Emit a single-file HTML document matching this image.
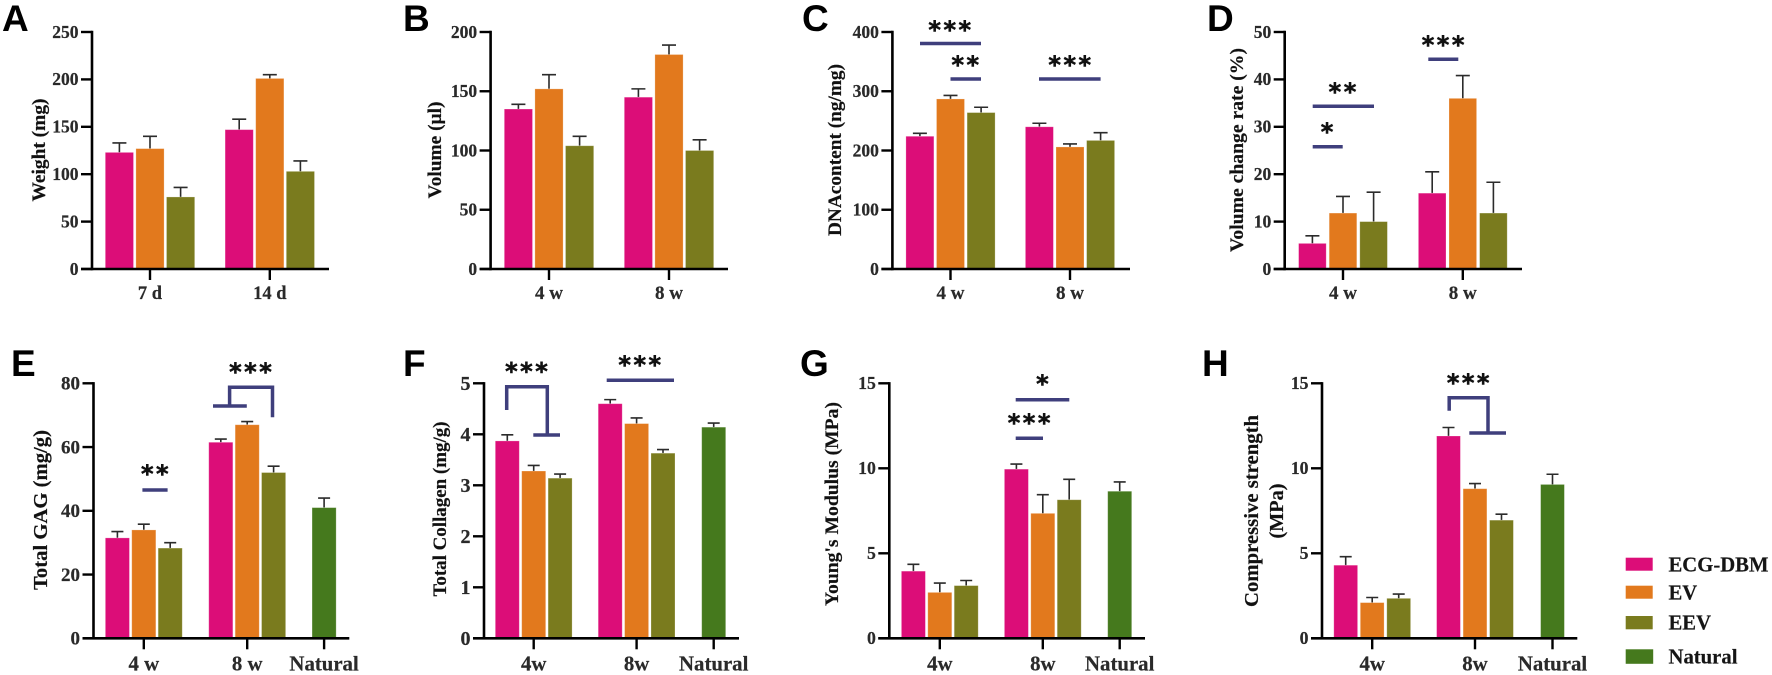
<!DOCTYPE html>
<html lang="en">
<head>
<meta charset="utf-8">
<title>Eight-panel bar chart figure</title>
<style>
html,body{margin:0;padding:0;background:#fff;}
#figure{display:block;width:1772px;height:675px;filter:blur(0.35px);}
text{font-family:"Liberation Serif",serif;font-weight:bold;stroke:#222;stroke-width:0.2px;}
.letter{font-family:"Liberation Sans",sans-serif;font-size:37px;fill:#000;stroke:none;}
.star{font-family:"DejaVu Sans",sans-serif;font-size:24px;fill:#111;text-anchor:middle;letter-spacing:2.5px;stroke:#111;stroke-width:0.6px;}
.sig{fill:none;stroke:#3f3f7c;stroke-width:3.5;}
.leg{font-size:20.7px;fill:#151515;}
</style>
</head>
<body>
<svg id="figure" xmlns="http://www.w3.org/2000/svg" width="1772" height="675" viewBox="0 0 1772 675">
  <rect x="0" y="0" width="1772" height="675" fill="#fff"/>
  <g id="panels"></g>

  <g>
    <text class="letter" x="2" y="31">A</text>
    <text class="letter" x="403" y="31">B</text>
    <text class="letter" x="802" y="31">C</text>
    <text class="letter" x="1207" y="31">D</text>
    <text class="letter" x="11" y="376">E</text>
    <text class="letter" x="403" y="376">F</text>
    <text class="letter" x="800" y="376">G</text>
    <text class="letter" x="1202" y="376">H</text>
  </g>

  <g>
    <path class="sig" d="M920 43.5H981"/>
    <text class="star" x="951" y="38">***</text>
    <path class="sig" d="M950.5 79H981"/>
    <text class="star" x="966.5" y="73">**</text>
    <path class="sig" d="M1039 79H1100.6"/>
    <text class="star" x="1071" y="73">***</text>
  </g>
  <g>
    <path class="sig" d="M1312.7 106.3H1374"/>
    <text class="star" x="1343.7" y="100">**</text>
    <path class="sig" d="M1312.7 146.7H1342.7"/>
    <text class="star" x="1328.3" y="140">*</text>
    <path class="sig" d="M1428.3 59.3H1458.3"/>
    <text class="star" x="1444.3" y="53">***</text>
  </g>
  <g>
    <path class="sig" d="M142.4 490H167.6"/>
    <text class="star" x="156" y="482">**</text>
    <path class="sig" d="M213 406H246.8M229.6 406V387.3H272.5V417.3"/>
    <text class="star" x="251.7" y="380">***</text>
  </g>
  <g>
    <path class="sig" d="M506.7 410V386.7H547.3V435M533.3 435H560"/>
    <text class="star" x="527.7" y="379.5">***</text>
    <path class="sig" d="M606.7 380.3H674"/>
    <text class="star" x="641" y="373">***</text>
  </g>
  <g>
    <path class="sig" d="M1015.7 399.7H1069.3"/>
    <text class="star" x="1043.7" y="392">*</text>
    <path class="sig" d="M1015.7 438.3H1043"/>
    <text class="star" x="1030.3" y="431">***</text>
  </g>
  <g>
    <path class="sig" d="M1449.2 410.7V397.7H1488V433M1469.3 433H1506"/>
    <text class="star" x="1469.4" y="391">***</text>
  </g>

  <g>
    <g>
      <rect x="1625.7" y="557.7" width="27" height="13" fill="#dc0d78"/>
      <text class="leg" x="1668.5" y="571.7">ECG-DBM</text>
    </g>
    <g>
      <rect x="1625.7" y="585.7" width="27" height="13" fill="#e2791d"/>
      <text class="leg" x="1668.5" y="599.5">EV</text>
    </g>
    <g>
      <rect x="1625.7" y="616" width="27" height="13.3" fill="#7a7b1e"/>
      <text class="leg" x="1668.5" y="629.5">EEV</text>
    </g>
    <g>
      <rect x="1625.7" y="649.3" width="27.5" height="14.5" fill="#45791d"/>
      <text class="leg" x="1668.5" y="663.5">Natural</text>
    </g>
  </g>
</svg>

<script>
// ---- Panel A: Weight ----
const aCategories = ['7 d', '14 d'];
const aTicks = [0, 50, 100, 150, 200, 250];
const aEcgDbm = [123, 147];
const aEv = [127, 201];
const aEev = [76, 103];
const aEcgDbmErr = [10, 11];
const aEvErr = [13, 4];
const aEevErr = [10, 11];

// ---- Panel B: Volume ----
const bCategories = ['4 w', '8 w'];
const bTicks = [0, 50, 100, 150, 200];
const bEcgDbm = [135, 145];
const bEv = [152, 181];
const bEev = [104, 100];
const bEcgDbmErr = [4, 7];
const bEvErr = [12, 8];
const bEevErr = [8, 9];

// ---- Panel C: DNA content ----
const cCategories = ['4 w', '8 w'];
const cTicks = [0, 100, 200, 300, 400];
const cEcgDbm = [224, 240];
const cEv = [287, 206];
const cEev = [264, 217];
const cEcgDbmErr = [5, 6];
const cEvErr = [6, 5];
const cEevErr = [9, 13];

// ---- Panel D: Volume change rate ----
const dCategories = ['4 w', '8 w'];
const dTicks = [0, 10, 20, 30, 40, 50];
const dEcgDbm = [5.4, 16];
const dEv = [11.8, 36];
const dEev = [10, 11.8];
const dEcgDbmErr = [1.6, 4.5];
const dEvErr = [3.5, 4.8];
const dEevErr = [6.2, 6.5];

// ---- Panel E: Total GAG ----
const eCategories = ['4 w', '8 w', 'Natural'];
const eTicks = [0, 20, 40, 60, 80];
const eEcgDbm = [31.5, 61.5];
const eEv = [34, 67];
const eEev = [28.3, 52];
const eNatural = [41];
const eEcgDbmErr = [2, 1];
const eEvErr = [1.8, 1];
const eEevErr = [1.7, 2];
const eNaturalErr = [3];

// ---- Panel F: Total Collagen ----
const fCategories = ['4w', '8w', 'Natural'];
const fTicks = [0, 1, 2, 3, 4, 5];
const fEcgDbm = [3.87, 4.6];
const fEv = [3.28, 4.21];
const fEev = [3.14, 3.63];
const fNatural = [4.14];
const fEcgDbmErr = [0.12, 0.08];
const fEvErr = [0.11, 0.11];
const fEevErr = [0.08, 0.07];
const fNaturalErr = [0.08];

// ---- Panel G: Young's Modulus ----
const gCategories = ['4w', '8w', 'Natural'];
const gTicks = [0, 5, 10, 15];
const gEcgDbm = [3.95, 9.95];
const gEv = [2.7, 7.35];
const gEev = [3.1, 8.15];
const gNatural = [8.65];
const gEcgDbmErr = [0.4, 0.3];
const gEvErr = [0.55, 1.1];
const gEevErr = [0.3, 1.2];
const gNaturalErr = [0.55];

// ---- Panel H: Compressive strength ----
const hCategories = ['4w', '8w', 'Natural'];
const hTicks = [0, 5, 10, 15];
const hEcgDbm = [4.3, 11.9];
const hEv = [2.1, 8.8];
const hEev = [2.35, 6.95];
const hNatural = [9.05];
const hEcgDbmErr = [0.5, 0.5];
const hEvErr = [0.3, 0.3];
const hEevErr = [0.25, 0.35];
const hNaturalErr = [0.6];

const PINK = '#dc0d78', ORANGE = '#e2791d', OLIVE = '#7a7b1e', GREEN = '#45791d';
const UP = {top: 32, bottom: 269};
const LOW = {top: 383.3, bottom: 638.3};

const panels = [
  {id: 'a', row: UP, left: 92, right: 329, c0: 150, c1: 269.8, barW: 28.2, pitch: 30.6, cap: 14, tickFont: 17.5, catFont: 18.5, catBase: 299,
   cats: aCategories, ticks: aTicks, means: [aEcgDbm, aEv, aEev], errs: [aEcgDbmErr, aEvErr, aEevErr],
   title: ['Weight (mg)'], titleX: [45], titleY: 150, titleLen: [103], titleFont: 19},
  {id: 'b', row: UP, left: 490.6, right: 728, c0: 549, c1: 669, barW: 28.2, pitch: 30.6, cap: 14, tickFont: 17.5, catFont: 19, catBase: 299,
   cats: bCategories, ticks: bTicks, means: [bEcgDbm, bEv, bEev], errs: [bEcgDbmErr, bEvErr, bEevErr],
   title: ['Volume (\u00b5l)'], titleX: [441], titleY: 150, titleLen: [97], titleFont: 19},
  {id: 'c', row: UP, left: 892.4, right: 1130, c0: 950.5, c1: 1070, barW: 28, pitch: 30.6, cap: 14, tickFont: 17.5, catFont: 19, catBase: 299,
   cats: cCategories, ticks: cTicks, means: [cEcgDbm, cEv, cEev], errs: [cEcgDbmErr, cEvErr, cEevErr],
   title: ['DNAcontent (ng/mg)'], titleX: [841], titleY: 150, titleLen: [172], titleFont: 19.3},
  {id: 'd', row: UP, left: 1284.7, right: 1522, c0: 1343, c1: 1462.8, barW: 27.6, pitch: 30.6, cap: 14, tickFont: 17.5, catFont: 19, catBase: 299,
   cats: dCategories, ticks: dTicks, means: [dEcgDbm, dEv, dEev], errs: [dEcgDbmErr, dEvErr, dEevErr],
   title: ['Volume change rate (%)'], titleX: [1243], titleY: 150, titleLen: [204], titleFont: 19},
  {id: 'e', row: LOW, left: 93.5, right: 349.3, c0: 143.8, c1: 247.2, c2: 324.1, barW: 24.1, pitch: 26.4, cap: 12, tickFont: 19, catFont: 20.8, catBase: 670.7,
   cats: eCategories, ticks: eTicks, means: [eEcgDbm, eEv, eEev], errs: [eEcgDbmErr, eEvErr, eEevErr], nat: eNatural, natErr: eNaturalErr,
   title: ['Total GAG (mg/g)'], titleX: [47], titleY: 510, titleLen: [160], titleFont: 20},
  {id: 'f', row: LOW, left: 484, right: 739, c0: 533.7, c1: 636.6, c2: 713.7, barW: 24, pitch: 26.4, cap: 12, tickFont: 20, catFont: 20.8, catBase: 670.7,
   cats: fCategories, ticks: fTicks, means: [fEcgDbm, fEv, fEev], errs: [fEcgDbmErr, fEvErr, fEevErr], nat: fNatural, natErr: fNaturalErr,
   title: ['Total Collagen (mg/g)'], titleX: [446], titleY: 509, titleLen: [175], titleFont: 18.8},
  {id: 'g', row: LOW, left: 889.3, right: 1145, c0: 939.8, c1: 1042.8, c2: 1119.7, barW: 24, pitch: 26.4, cap: 12, tickFont: 17.7, catFont: 20.8, catBase: 670.7,
   cats: gCategories, ticks: gTicks, means: [gEcgDbm, gEv, gEev], errs: [gEcgDbmErr, gEvErr, gEevErr], nat: gNatural, natErr: gNaturalErr,
   title: ["Young's Modulus (MPa)"], titleX: [838], titleY: 504, titleLen: [204], titleFont: 19.3},
  {id: 'h', row: LOW, left: 1322, right: 1577.3, c0: 1372.2, c1: 1475, c2: 1552.5, barW: 23.8, pitch: 26.5, cap: 12, tickFont: 17.7, catFont: 20.8, catBase: 670.7,
   cats: hCategories, ticks: hTicks, means: [hEcgDbm, hEv, hEev], errs: [hEcgDbmErr, hEvErr, hEevErr], nat: hNatural, natErr: hNaturalErr,
   title: ['Compressive strength', '(MPa)'], titleX: [1258, 1283], titleY: 511, titleLen: [192, 55], titleFont: 19.5}
];

const NS = 'http://www.w3.org/2000/svg';
const root = document.getElementById('panels');

function make(tag, parent, attrs) {
  const el = document.createElementNS(NS, tag);
  for (const k in attrs) el.setAttribute(k, attrs[k]);
  parent.appendChild(el);
  return el;
}

function drawBar(g, p, yScale, center, value, err, color, name) {
  const zero = yScale(0);
  const y = yScale(value);
  const topY = yScale(value + err);
  const errLine = make('path', g, {
    d: 'M' + center + ' ' + y + 'V' + topY + 'M' + (center - p.cap / 2) + ' ' + topY + 'H' + (center + p.cap / 2),
    fill: 'none', stroke: '#2b2b2b', 'stroke-width': 1.6
  });
  
  
  const bar = make('rect', g, {
    x: center - p.barW / 2, y: y, width: p.barW, height: zero - y,
    fill: color, stroke: 'rgba(255,255,255,0.3)', 'stroke-width': 0.8
  });
  
  
}

panels.forEach(function (p) {
  const g = make('g', root, {});
  
  

  const yMin = p.ticks[0];
  const yMax = p.ticks[p.ticks.length - 1];
  const yScale = function (v) {
    return p.row.bottom - (v - yMin) / (yMax - yMin) * (p.row.bottom - p.row.top);
  };
  const xScale = function (i) {
    return [p.c0, p.c1, p.c2][i];
  };
  const colors = [PINK, ORANGE, OLIVE];
  const seriesKeys = ['ecg-dbm', 'ev', 'eev'];

  p.means.forEach(function (vals, s) {
    vals.forEach(function (v, i) {
      const center = xScale(i) + (s - 1) * p.pitch;
      drawBar(g, p, yScale, center, v, p.errs[s][i], colors[s], p.id + '-' + seriesKeys[s] + '-' + i);
    });
  });
  if (p.nat) {
    p.nat.forEach(function (v, i) {
      drawBar(g, p, yScale, xScale(2), v, p.natErr[i], GREEN, p.id + '-natural');
    });
  }

  const yAxis = make('line', g, {
    x1: p.left, x2: p.left, y1: p.row.top - 1.2, y2: p.row.bottom + 1.2, stroke: '#000', 'stroke-width': 2.6
  });
  
  

  const xAxis = make('line', g, {
    x1: p.left - 11, x2: p.right, y1: p.row.bottom, y2: p.row.bottom, stroke: '#000', 'stroke-width': 2.6
  });
  
  

  p.ticks.forEach(function (t) {
    const y = yScale(t);
    const mark = make('line', g, {
      x1: p.left - 11, x2: p.left, y1: y, y2: y, stroke: '#000', 'stroke-width': 2.4
    });
    
    
    const label = make('text', g, {
      x: p.left - 13.5, y: y + p.tickFont * 0.33, 'text-anchor': 'end', 'font-size': p.tickFont, fill: '#2a2a2a'
    });
    label.textContent = String(t);
    
    
  });

  p.cats.forEach(function (c, i) {
    const x = xScale(i);
    const mark = make('line', g, {
      x1: x, x2: x, y1: p.row.bottom, y2: p.row.bottom + 11, stroke: '#000', 'stroke-width': 2.4
    });
    
    
    const label = make('text', g, {
      x: x, y: p.catBase, 'text-anchor': 'middle', 'font-size': p.catFont, fill: '#2a2a2a'
    });
    label.textContent = c;
    
    
  });

  p.title.forEach(function (line, i) {
    const tx = p.titleX[i];
    const title = make('text', g, {
      x: tx, y: p.titleY, 'text-anchor': 'middle', 'font-size': p.titleFont, fill: '#111',
      transform: 'rotate(-90 ' + tx + ' ' + p.titleY + ')',
      textLength: p.titleLen[i], lengthAdjust: 'spacingAndGlyphs'
    });
    title.textContent = line;
    
    
  });
});
</script>
</body>
</html>
